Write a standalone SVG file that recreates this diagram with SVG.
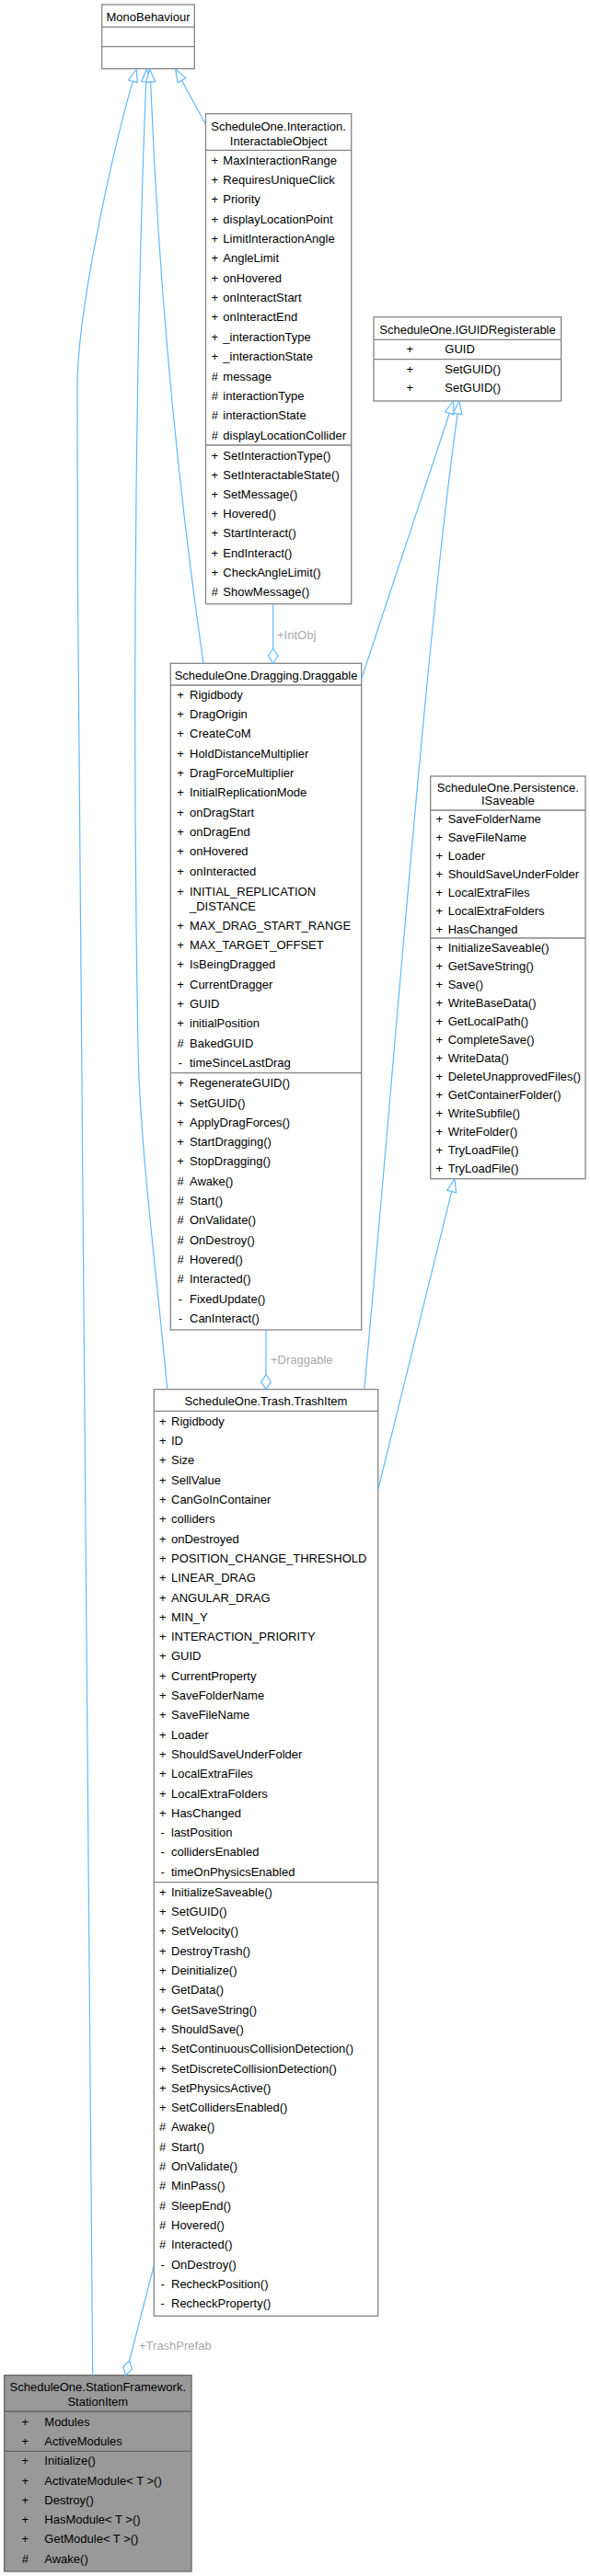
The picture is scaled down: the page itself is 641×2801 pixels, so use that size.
<svg xmlns="http://www.w3.org/2000/svg" width="641" height="2801" viewBox="0 0 641 2801">
<style>
.box{fill:#fff;stroke:#848484;stroke-width:1.3}
.hl{fill:#999;stroke:#666;stroke-width:1.3}
.dv{stroke:#848484;stroke-width:1.3}
.hd{stroke:#666;stroke-width:1.3}
text{font-family:"Liberation Sans",Arial,Helvetica,sans-serif;font-size:13px;fill:#000}
.c{text-anchor:middle}
.e{fill:none;stroke:#63B8FF;stroke-width:1.2}
.ah{fill:#fff;stroke:#63B8FF;stroke-width:1.2}
.lbl{fill:#aaa}
</style>
<rect width="641" height="2801" fill="#fff"/>

<g id="MonoBehaviour">
<rect class="box" x="110.7" y="5" width="100.6" height="69.7"/>
<line class="dv" x1="110.7" y1="29.3" x2="211.3" y2="29.3"/>
<line class="dv" x1="110.7" y1="50.7" x2="211.3" y2="50.7"/>
<text class="c" x="161" y="22.5">MonoBehaviour</text>
</g>

<g id="InteractableObject">
<rect class="box" x="223.5" y="123.7" width="158.2" height="533"/>
<line class="dv" x1="223.5" y1="163.3" x2="381.7" y2="163.3"/>
<line class="dv" x1="223.5" y1="484" x2="381.7" y2="484"/>
<text class="c" x="302.6" y="141.8">ScheduleOne.Interaction.</text>
<text class="c" x="302.6" y="157.8">InteractableObject</text>
<text class="c" x="233.3" y="178.5">+</text><text x="242.3" y="178.5">MaxInteractionRange</text>
<text class="c" x="233.3" y="199.9">+</text><text x="242.3" y="199.9">RequiresUniqueClick</text>
<text class="c" x="233.3" y="221.2">+</text><text x="242.3" y="221.2">Priority</text>
<text class="c" x="233.3" y="242.6">+</text><text x="242.3" y="242.6">displayLocationPoint</text>
<text class="c" x="233.3" y="263.9">+</text><text x="242.3" y="263.9">LimitInteractionAngle</text>
<text class="c" x="233.3" y="285.3">+</text><text x="242.3" y="285.3">AngleLimit</text>
<text class="c" x="233.3" y="306.7">+</text><text x="242.3" y="306.7">onHovered</text>
<text class="c" x="233.3" y="328">+</text><text x="242.3" y="328">onInteractStart</text>
<text class="c" x="233.3" y="349.4">+</text><text x="242.3" y="349.4">onInteractEnd</text>
<text class="c" x="233.3" y="370.7">+</text><text x="242.3" y="370.7">_interactionType</text>
<text class="c" x="233.3" y="392.1">+</text><text x="242.3" y="392.1">_interactionState</text>
<text class="c" x="233.3" y="413.5">#</text><text x="242.3" y="413.5">message</text>
<text class="c" x="233.3" y="434.8">#</text><text x="242.3" y="434.8">interactionType</text>
<text class="c" x="233.3" y="456.2">#</text><text x="242.3" y="456.2">interactionState</text>
<text class="c" x="233.3" y="477.5">#</text><text x="242.3" y="477.5">displayLocationCollider</text>
<text class="c" x="233.3" y="499.5">+</text><text x="242.3" y="499.5">SetInteractionType()</text>
<text class="c" x="233.3" y="520.7">+</text><text x="242.3" y="520.7">SetInteractableState()</text>
<text class="c" x="233.3" y="541.9">+</text><text x="242.3" y="541.9">SetMessage()</text>
<text class="c" x="233.3" y="563.1">+</text><text x="242.3" y="563.1">Hovered()</text>
<text class="c" x="233.3" y="584.3">+</text><text x="242.3" y="584.3">StartInteract()</text>
<text class="c" x="233.3" y="605.5">+</text><text x="242.3" y="605.5">EndInteract()</text>
<text class="c" x="233.3" y="626.7">+</text><text x="242.3" y="626.7">CheckAngleLimit()</text>
<text class="c" x="233.3" y="647.9">#</text><text x="242.3" y="647.9">ShowMessage()</text>
</g>

<g id="IGUIDRegisterable">
<rect class="box" x="406" y="344.7" width="203.7" height="91.3"/>
<line class="dv" x1="406" y1="369.3" x2="609.7" y2="369.3"/>
<line class="dv" x1="406" y1="390.7" x2="609.7" y2="390.7"/>
<text class="c" x="508" y="362.8">ScheduleOne.IGUIDRegisterable</text>
<text class="c" x="445.3" y="383.8">+</text><text x="483.3" y="383.8">GUID</text>
<text class="c" x="445.3" y="405.5">+</text><text x="483.3" y="405.5">SetGUID()</text>
<text class="c" x="445.3" y="426.2">+</text><text x="483.3" y="426.2">SetGUID()</text>
</g>

<g id="Draggable">
<rect class="box" x="185.3" y="721.3" width="207.4" height="724.7"/>
<line class="dv" x1="185.3" y1="745" x2="392.7" y2="745"/>
<line class="dv" x1="185.3" y1="1166.7" x2="392.7" y2="1166.7"/>
<text class="c" x="289" y="738.8">ScheduleOne.Dragging.Draggable</text>
<text class="c" x="196" y="759.5">+</text><text x="206" y="759.5">Rigidbody</text>
<text class="c" x="196" y="780.9">+</text><text x="206" y="780.9">DragOrigin</text>
<text class="c" x="196" y="802.2">+</text><text x="206" y="802.2">CreateCoM</text>
<text class="c" x="196" y="823.6">+</text><text x="206" y="823.6">HoldDistanceMultiplier</text>
<text class="c" x="196" y="844.9">+</text><text x="206" y="844.9">DragForceMultiplier</text>
<text class="c" x="196" y="866.3">+</text><text x="206" y="866.3">InitialReplicationMode</text>
<text class="c" x="196" y="887.6">+</text><text x="206" y="887.6">onDragStart</text>
<text class="c" x="196" y="909">+</text><text x="206" y="909">onDragEnd</text>
<text class="c" x="196" y="930.3">+</text><text x="206" y="930.3">onHovered</text>
<text class="c" x="196" y="951.7">+</text><text x="206" y="951.7">onInteracted</text>
<text class="c" x="196" y="973.5">+</text><text x="206" y="973.5">INITIAL_REPLICATION</text>
<text x="206" y="989.5">_DISTANCE</text>
<text class="c" x="196" y="1010.5">+</text><text x="206" y="1010.5">MAX_DRAG_START_RANGE</text>
<text class="c" x="196" y="1031.9">+</text><text x="206" y="1031.9">MAX_TARGET_OFFSET</text>
<text class="c" x="196" y="1053.2">+</text><text x="206" y="1053.2">IsBeingDragged</text>
<text class="c" x="196" y="1074.6">+</text><text x="206" y="1074.6">CurrentDragger</text>
<text class="c" x="196" y="1095.9">+</text><text x="206" y="1095.9">GUID</text>
<text class="c" x="196" y="1117.3">+</text><text x="206" y="1117.3">initialPosition</text>
<text class="c" x="196" y="1138.6">#</text><text x="206" y="1138.6">BakedGUID</text>
<text class="c" x="196" y="1160">-</text><text x="206" y="1160">timeSinceLastDrag</text>
<text class="c" x="196" y="1182.2">+</text><text x="206" y="1182.2">RegenerateGUID()</text>
<text class="c" x="196" y="1203.5">+</text><text x="206" y="1203.5">SetGUID()</text>
<text class="c" x="196" y="1224.8">+</text><text x="206" y="1224.8">ApplyDragForces()</text>
<text class="c" x="196" y="1246.1">+</text><text x="206" y="1246.1">StartDragging()</text>
<text class="c" x="196" y="1267.4">+</text><text x="206" y="1267.4">StopDragging()</text>
<text class="c" x="196" y="1288.7">#</text><text x="206" y="1288.7">Awake()</text>
<text class="c" x="196" y="1310">#</text><text x="206" y="1310">Start()</text>
<text class="c" x="196" y="1331.3">#</text><text x="206" y="1331.3">OnValidate()</text>
<text class="c" x="196" y="1352.6">#</text><text x="206" y="1352.6">OnDestroy()</text>
<text class="c" x="196" y="1373.9">#</text><text x="206" y="1373.9">Hovered()</text>
<text class="c" x="196" y="1395.2">#</text><text x="206" y="1395.2">Interacted()</text>
<text class="c" x="196" y="1416.5">-</text><text x="206" y="1416.5">FixedUpdate()</text>
<text class="c" x="196" y="1437.8">-</text><text x="206" y="1437.8">CanInteract()</text>
</g>

<g id="ISaveable">
<rect class="box" x="467.7" y="844" width="168.3" height="437.7"/>
<line class="dv" x1="467.7" y1="881" x2="636" y2="881"/>
<line class="dv" x1="467.7" y1="1020" x2="636" y2="1020"/>
<text class="c" x="551.8" y="861.2">ScheduleOne.Persistence.</text>
<text class="c" x="551.8" y="875.2">ISaveable</text>
<text class="c" x="477.3" y="895.2">+</text><text x="486.7" y="895.2">SaveFolderName</text>
<text class="c" x="477.3" y="915.1">+</text><text x="486.7" y="915.1">SaveFileName</text>
<text class="c" x="477.3" y="935">+</text><text x="486.7" y="935">Loader</text>
<text class="c" x="477.3" y="954.9">+</text><text x="486.7" y="954.9">ShouldSaveUnderFolder</text>
<text class="c" x="477.3" y="974.8">+</text><text x="486.7" y="974.8">LocalExtraFiles</text>
<text class="c" x="477.3" y="994.7">+</text><text x="486.7" y="994.7">LocalExtraFolders</text>
<text class="c" x="477.3" y="1014.6">+</text><text x="486.7" y="1014.6">HasChanged</text>
<text class="c" x="477.3" y="1035.2">+</text><text x="486.7" y="1035.2">InitializeSaveable()</text>
<text class="c" x="477.3" y="1055.1">+</text><text x="486.7" y="1055.1">GetSaveString()</text>
<text class="c" x="477.3" y="1075.1">+</text><text x="486.7" y="1075.1">Save()</text>
<text class="c" x="477.3" y="1095">+</text><text x="486.7" y="1095">WriteBaseData()</text>
<text class="c" x="477.3" y="1115">+</text><text x="486.7" y="1115">GetLocalPath()</text>
<text class="c" x="477.3" y="1134.9">+</text><text x="486.7" y="1134.9">CompleteSave()</text>
<text class="c" x="477.3" y="1154.8">+</text><text x="486.7" y="1154.8">WriteData()</text>
<text class="c" x="477.3" y="1174.8">+</text><text x="486.7" y="1174.8">DeleteUnapprovedFiles()</text>
<text class="c" x="477.3" y="1194.7">+</text><text x="486.7" y="1194.7">GetContainerFolder()</text>
<text class="c" x="477.3" y="1214.7">+</text><text x="486.7" y="1214.7">WriteSubfile()</text>
<text class="c" x="477.3" y="1234.6">+</text><text x="486.7" y="1234.6">WriteFolder()</text>
<text class="c" x="477.3" y="1254.5">+</text><text x="486.7" y="1254.5">TryLoadFile()</text>
<text class="c" x="477.3" y="1274.5">+</text><text x="486.7" y="1274.5">TryLoadFile()</text>
</g>

<g id="TrashItem">
<rect class="box" x="167.3" y="1510.7" width="243.4" height="1007.6"/>
<line class="dv" x1="167.3" y1="1534.3" x2="410.7" y2="1534.3"/>
<line class="dv" x1="167.3" y1="2046.7" x2="410.7" y2="2046.7"/>
<text class="c" x="289" y="1527.8">ScheduleOne.Trash.TrashItem</text>
<text class="c" x="176.7" y="1549.8">+</text><text x="186" y="1549.8">Rigidbody</text>
<text class="c" x="176.7" y="1571.1">+</text><text x="186" y="1571.1">ID</text>
<text class="c" x="176.7" y="1592.4">+</text><text x="186" y="1592.4">Size</text>
<text class="c" x="176.7" y="1613.7">+</text><text x="186" y="1613.7">SellValue</text>
<text class="c" x="176.7" y="1635">+</text><text x="186" y="1635">CanGoInContainer</text>
<text class="c" x="176.7" y="1656.3">+</text><text x="186" y="1656.3">colliders</text>
<text class="c" x="176.7" y="1677.6">+</text><text x="186" y="1677.6">onDestroyed</text>
<text class="c" x="176.7" y="1698.9">+</text><text x="186" y="1698.9">POSITION_CHANGE_THRESHOLD</text>
<text class="c" x="176.7" y="1720.2">+</text><text x="186" y="1720.2">LINEAR_DRAG</text>
<text class="c" x="176.7" y="1741.5">+</text><text x="186" y="1741.5">ANGULAR_DRAG</text>
<text class="c" x="176.7" y="1762.8">+</text><text x="186" y="1762.8">MIN_Y</text>
<text class="c" x="176.7" y="1784.1">+</text><text x="186" y="1784.1">INTERACTION_PRIORITY</text>
<text class="c" x="176.7" y="1805.4">+</text><text x="186" y="1805.4">GUID</text>
<text class="c" x="176.7" y="1826.7">+</text><text x="186" y="1826.7">CurrentProperty</text>
<text class="c" x="176.7" y="1848">+</text><text x="186" y="1848">SaveFolderName</text>
<text class="c" x="176.7" y="1869.3">+</text><text x="186" y="1869.3">SaveFileName</text>
<text class="c" x="176.7" y="1890.6">+</text><text x="186" y="1890.6">Loader</text>
<text class="c" x="176.7" y="1911.9">+</text><text x="186" y="1911.9">ShouldSaveUnderFolder</text>
<text class="c" x="176.7" y="1933.2">+</text><text x="186" y="1933.2">LocalExtraFiles</text>
<text class="c" x="176.7" y="1954.5">+</text><text x="186" y="1954.5">LocalExtraFolders</text>
<text class="c" x="176.7" y="1975.8">+</text><text x="186" y="1975.8">HasChanged</text>
<text class="c" x="176.7" y="1997.1">-</text><text x="186" y="1997.1">lastPosition</text>
<text class="c" x="176.7" y="2018.4">-</text><text x="186" y="2018.4">collidersEnabled</text>
<text class="c" x="176.7" y="2039.7">-</text><text x="186" y="2039.7">timeOnPhysicsEnabled</text>
<text class="c" x="176.7" y="2061.8">+</text><text x="186" y="2061.8">InitializeSaveable()</text>
<text class="c" x="176.7" y="2083.1">+</text><text x="186" y="2083.1">SetGUID()</text>
<text class="c" x="176.7" y="2104.4">+</text><text x="186" y="2104.4">SetVelocity()</text>
<text class="c" x="176.7" y="2125.7">+</text><text x="186" y="2125.7">DestroyTrash()</text>
<text class="c" x="176.7" y="2147">+</text><text x="186" y="2147">Deinitialize()</text>
<text class="c" x="176.7" y="2168.3">+</text><text x="186" y="2168.3">GetData()</text>
<text class="c" x="176.7" y="2189.6">+</text><text x="186" y="2189.6">GetSaveString()</text>
<text class="c" x="176.7" y="2210.9">+</text><text x="186" y="2210.9">ShouldSave()</text>
<text class="c" x="176.7" y="2232.2">+</text><text x="186" y="2232.2">SetContinuousCollisionDetection()</text>
<text class="c" x="176.7" y="2253.5">+</text><text x="186" y="2253.5">SetDiscreteCollisionDetection()</text>
<text class="c" x="176.7" y="2274.8">+</text><text x="186" y="2274.8">SetPhysicsActive()</text>
<text class="c" x="176.7" y="2296.1">+</text><text x="186" y="2296.1">SetCollidersEnabled()</text>
<text class="c" x="176.7" y="2317.4">#</text><text x="186" y="2317.4">Awake()</text>
<text class="c" x="176.7" y="2338.7">#</text><text x="186" y="2338.7">Start()</text>
<text class="c" x="176.7" y="2360">#</text><text x="186" y="2360">OnValidate()</text>
<text class="c" x="176.7" y="2381.3">#</text><text x="186" y="2381.3">MinPass()</text>
<text class="c" x="176.7" y="2402.6">#</text><text x="186" y="2402.6">SleepEnd()</text>
<text class="c" x="176.7" y="2423.9">#</text><text x="186" y="2423.9">Hovered()</text>
<text class="c" x="176.7" y="2445.2">#</text><text x="186" y="2445.2">Interacted()</text>
<text class="c" x="176.7" y="2466.5">-</text><text x="186" y="2466.5">OnDestroy()</text>
<text class="c" x="176.7" y="2487.8">-</text><text x="186" y="2487.8">RecheckPosition()</text>
<text class="c" x="176.7" y="2509.1">-</text><text x="186" y="2509.1">RecheckProperty()</text>
</g>

<g id="StationItem">
<rect class="hl" x="4.7" y="2582.7" width="203.3" height="213.3"/>
<line class="hd" x1="4.7" y1="2622" x2="208" y2="2622"/>
<line class="hd" x1="4.7" y1="2665.3" x2="208" y2="2665.3"/>
<text class="c" x="106.3" y="2599.5">ScheduleOne.StationFramework.</text>
<text class="c" x="106.3" y="2616.2">StationItem</text>
<text class="c" x="27.3" y="2637.8">+</text><text x="48.3" y="2637.8">Modules</text>
<text class="c" x="27.3" y="2658.8">+</text><text x="48.3" y="2658.8">ActiveModules</text>
<text class="c" x="27.3" y="2680.2">+</text><text x="48.3" y="2680.2">Initialize()</text>
<text class="c" x="27.3" y="2701.5">+</text><text x="48.3" y="2701.5">ActivateModule&lt; T &gt;()</text>
<text class="c" x="27.3" y="2722.8">+</text><text x="48.3" y="2722.8">Destroy()</text>
<text class="c" x="27.3" y="2744.1">+</text><text x="48.3" y="2744.1">HasModule&lt; T &gt;()</text>
<text class="c" x="27.3" y="2765.4">+</text><text x="48.3" y="2765.4">GetModule&lt; T &gt;()</text>
<text class="c" x="27.3" y="2786.7">#</text><text x="48.3" y="2786.7">Awake()</text>
</g>

<g id="connectors">
<path class="e" d="M100.7,2582.7 C100.7,2000 84,1200 84,420 C84,330 127.4,146 144.35,88.43"/>
<polygon class="ah" points="148.3,75 139.56,87.02 149.15,89.84"/>
<path class="e" d="M181.7,1510.7 C172,1400 152,1250 150,1140 C142,700 150,300 158.7,89"/>
<polygon class="ah" points="159.3,75 153.7,88.8 163.7,89.2"/>
<path class="e" d="M221,721.3 C192,520 172,300 163.6,89"/>
<polygon class="ah" points="162.7,75 158.6,89.3 168.6,88.7"/>
<path class="e" d="M223.3,135 L197.4,87.3"/>
<polygon class="ah" points="190.7,75 193,89.7 201.8,84.9"/>
<path class="e" d="M392.7,738.3 L488.3,449.3"/>
<polygon class="ah" points="492.7,436 483.6,447.7 493,450.9"/>
<path class="e" d="M395.7,1510.7 C425,1200 462,700 497.1,449.9"/>
<polygon class="ah" points="499,436 492.1,449.2 502,450.6"/>
<path class="e" d="M410.7,1620 L490.7,1295.6"/>
<polygon class="ah" points="494,1282 485.8,1294.4 495.6,1296.8"/>
<path class="e" d="M296.7,656.7 L296.7,705"/>
<polygon class="ah" points="296.7,705 302,713 296.7,721.3 291.4,713"/>
<text class="lbl" x="301" y="694.5">+IntObj</text>
<path class="e" d="M289,1446 L289,1494.7"/>
<polygon class="ah" points="289,1494.7 294.3,1502.7 289,1510.7 283.7,1502.7"/>
<text class="lbl" x="294" y="1483">+Draggable</text>
<path class="e" d="M167.3,2463 L140.6,2567"/>
<polygon class="ah" points="140.6,2567 143.4,2576.1 136.5,2582.7 133.7,2573.5"/>
<text class="lbl" x="151" y="2555">+TrashPrefab</text>
</g>
</svg>
